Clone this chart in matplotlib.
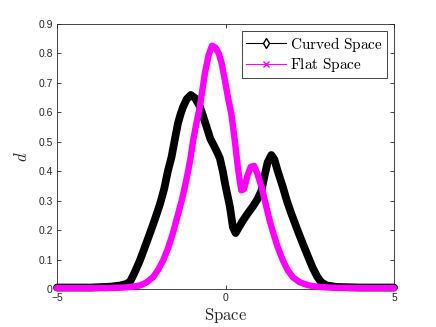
import matplotlib
matplotlib.use("Agg")
from matplotlib import pyplot as plt
from matplotlib.lines import Line2D

plt.rcParams['mathtext.fontset'] = 'cm'
plt.rcParams['font.family'] = ['Liberation Sans', 'DejaVu Sans']

# curved space (black)
curved_x = [-5, -4, -3.4, -3.12, -2.95, -2.83, -2.7, -2.54, -2.4, -2.24, -2.1, -1.94,
            -1.82, -1.71, -1.6, -1.5, -1.41, -1.33, -1.26, -1.15, -1.03, -0.9, -0.76,
            -0.66, -0.56, -0.45, -0.35, -0.27, -0.17, -0.08, 0.0, 0.13, 0.22, 0.3, 0.4,
            0.52, 0.65, 0.81, 0.95, 1.07, 1.15, 1.25, 1.36, 1.45, 1.55, 1.7, 1.82, 1.95,
            2.12, 2.29, 2.44, 2.58, 2.72, 2.84, 3.0, 3.3, 4, 5]
curved_y = [0.005, 0.005, 0.008, 0.012, 0.017, 0.025, 0.055, 0.097, 0.14, 0.19, 0.235,
            0.29, 0.34, 0.40, 0.449, 0.51, 0.563, 0.595, 0.618, 0.645, 0.659, 0.648, 0.62,
            0.585, 0.55, 0.51, 0.488, 0.47, 0.445, 0.40, 0.35, 0.28, 0.21, 0.19, 0.21,
            0.233, 0.255, 0.28, 0.305, 0.335, 0.38, 0.43, 0.455, 0.44, 0.40, 0.347, 0.30,
            0.257, 0.205, 0.155, 0.113, 0.074, 0.042, 0.023, 0.012, 0.007, 0.005, 0.005]

# flat space (magenta)
flat_x = [-5, -3.5, -3, -2.75, -2.54, -2.35, -2.15, -2.0, -1.85, -1.7, -1.56, -1.43,
          -1.3, -1.2, -1.11, -1.03, -0.96, -0.86, -0.76, -0.68, -0.61, -0.5, -0.4, -0.3,
          -0.2, -0.12, -0.02, 0.07, 0.18, 0.28, 0.38, 0.47, 0.55, 0.65, 0.75, 0.85, 0.95,
          1.07, 1.2, 1.31, 1.43, 1.55, 1.7, 1.85, 2.0, 2.2, 2.45, 2.69, 3.2, 4, 5]
flat_y = [0.003, 0.003, 0.005, 0.008, 0.012, 0.022, 0.04, 0.065, 0.097, 0.14, 0.19, 0.245,
          0.30, 0.35, 0.40, 0.45, 0.505, 0.565, 0.62, 0.68, 0.733, 0.795, 0.826, 0.82,
          0.80, 0.77, 0.71, 0.653, 0.59, 0.5, 0.40, 0.335, 0.34, 0.385, 0.415, 0.418, 0.39,
          0.347, 0.285, 0.233, 0.185, 0.142, 0.098, 0.063, 0.04, 0.023, 0.013, 0.008,
          0.004, 0.003, 0.003]

fig = plt.figure(figsize=(4.36, 3.27), dpi=100)
ax = fig.add_axes([57/436, 1-289/327, 337/436, 265/327])

ax.plot(curved_x, curved_y, color="black", lw=5.6, solid_joinstyle='round',
        solid_capstyle='round', clip_on=False, zorder=3)
ax.plot(flat_x, flat_y, color="magenta", lw=4.6, solid_joinstyle='round',
        solid_capstyle='round', clip_on=False, zorder=4)

ax.set_xlim(-5, 5)
ax.set_ylim(0, 0.9)
ax.set_xticks([-5, 0, 5])
ax.set_yticks([0, 0.1, 0.2, 0.3, 0.4, 0.5, 0.6, 0.7, 0.8, 0.9])
ax.set_yticklabels(["0", "0.1", "0.2", "0.3", "0.4", "0.5", "0.6", "0.7", "0.8", "0.9"])
ax.tick_params(direction='in', top=True, right=True, length=3, width=0.6,
               labelsize=7.5, colors='#262626', pad=3)
for s in ax.spines.values():
    s.set_color('#262626')
    s.set_linewidth(0.6)

ax.set_xlabel(r"$\mathrm{Space}$", fontsize=12, color='#262626', labelpad=2)
ax.set_ylabel(r"$d$", fontsize=12, color='#262626', labelpad=6)

handles = [Line2D([], [], color='black', lw=0.8, marker='d', ms=5, mfc='white', mec='black'),
           Line2D([], [], color='magenta', lw=0.8, marker='x', ms=4, mec='magenta')]
leg = ax.legend(handles, [r"$\mathrm{Curved\ Space}$", r"$\mathrm{Flat\ Space}$"],
                loc='upper right', fontsize=11, fancybox=False, framealpha=1,
                edgecolor='#262626', borderpad=0.25, labelspacing=0.15,
                handlelength=2.6, handletextpad=0.3, borderaxespad=0.45)
leg.get_frame().set_linewidth(0.6)
leg.set_zorder(5)

fig.savefig("out.png", dpi=100)
